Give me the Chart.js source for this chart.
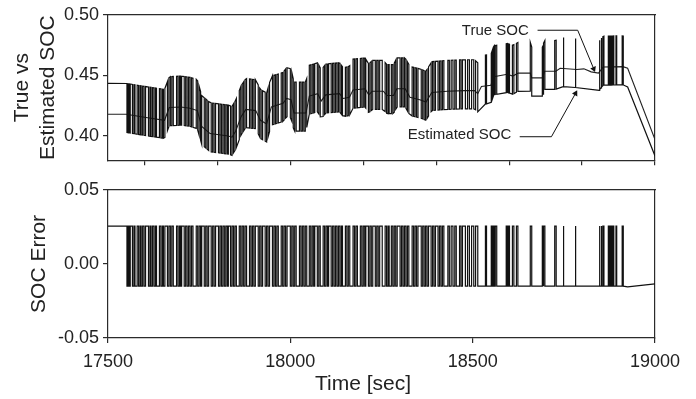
<!DOCTYPE html>
<html>
<head>
<meta charset="utf-8">
<script src="https://cdn.jsdelivr.net/npm/chart.js@4.4.0/dist/chart.umd.min.js"></script>
<style>
  html, body { margin: 0; padding: 0; background: #fff; }
  #wrap { position: relative; width: 696px; height: 399px; font-family: "Liberation Sans", Arial, sans-serif; }
  #socChart { position: absolute; left: 0; top: 0; }
  #errChart { position: absolute; left: 0; top: 175px; }
  #xTitle { position: absolute; left: 263px; width: 200px; top: 371px; text-align: center; font-size: 21px; line-height: 24px; color: #222; }
</style>
</head>
<body>
<div id="wrap">
  <canvas id="socChart" width="696" height="175"></canvas>
  <canvas id="errChart" width="696" height="224"></canvas>
  <div id="xTitle">Time [sec]</div>
</div>
<script>
// axis ranges and ticks
const xMin = 17500, xMax = 19000;
const topXTicks = [17600, 17800, 18000, 18200, 18400, 18600, 18800, 19000];
const errXTicks = [17500, 18000, 18500, 19000];
const topYTicks = [0.40, 0.45, 0.50];
const errYTicks = [-0.05, 0.00, 0.05];

// true SOC (the smooth line)
const trueTime = [17500, 17550, 17600, 17655, 17668, 17700, 17725, 17745, 17757, 17780,
  17830, 17840, 17850, 17865, 17878, 17905, 17918, 17935, 17948, 17980,
  17990, 18002, 18010, 18043, 18052, 18075, 18085, 18097, 18135, 18145,
  18162, 18172, 18205, 18215, 18225, 18255, 18265, 18283, 18292, 18315,
  18328, 18355, 18372, 18388, 18430, 18478, 18505, 18514, 18524, 18550,
  18558, 18595, 18610, 18625, 18658, 18662, 18692, 18697, 18728, 18740,
  18785, 18805, 18825, 18845, 18858, 18912, 18925, 19000];
const trueSoc = [0.418, 0.418, 0.4155, 0.413, 0.4235, 0.424, 0.423, 0.421, 0.408, 0.402,
  0.400, 0.399, 0.404, 0.416, 0.422, 0.421, 0.413, 0.410, 0.424, 0.427,
  0.431, 0.430, 0.419, 0.419, 0.433, 0.435, 0.429, 0.434, 0.435, 0.431,
  0.432, 0.438, 0.439, 0.434, 0.437, 0.437, 0.4335, 0.4335, 0.439, 0.439,
  0.432, 0.430, 0.428, 0.436, 0.437, 0.4375, 0.4375, 0.435, 0.441, 0.442,
  0.449, 0.451, 0.4495, 0.452, 0.452, 0.448, 0.448, 0.4535, 0.4535, 0.456,
  0.455, 0.4555, 0.453, 0.452, 0.457, 0.4573, 0.456, 0.397];

// SOC error: switches between two levels; times of each switch
const errHigh = 0.0255;
const errLow = -0.015;
const errEdgesA = [17552, 17555, 17558, 17561, 17567, 17571, 17574,
  17580, 17584, 17588, 17591, 17595, 17599, 17603,
  17611, 17615, 17618, 17622, 17626, 17630, 17633,
  17641, 17645, 17649, 17652, 17656,
  17663, 17667, 17671, 17675, 17679,
  17688, 17692, 17696, 17699, 17702,
  17709, 17713, 17717, 17721, 17725, 17729, 17733,
  17742, 17746, 17750, 17754, 17757,
  17764, 17768, 17772, 17776,
  17783, 17787, 17791, 17795,
  17803, 17807, 17811, 17815, 17819, 17823, 17827, 17830];
const errEdgesB = [17836, 17840, 17844, 17848, 17852,
  17860, 17864, 17868, 17872, 17876, 17880,
  17888, 17892, 17896, 17900, 17904,
  17912, 17916, 17920, 17924,
  17931, 17935, 17939, 17943,
  17951, 17955, 17959, 17963, 17967,
  17975, 17979, 17983, 17987, 17991,
  18000, 18004, 18008, 18012, 18016,
  18025, 18029, 18033, 18037, 18041, 18045,
  18052, 18056, 18060, 18064, 18067,
  18074, 18078, 18082,
  18090, 18094, 18098, 18102, 18105,
  18112, 18116, 18120, 18124, 18128, 18132, 18136, 18140, 18143];
const errEdgesC = [18151, 18155, 18159, 18163,
  18172, 18176, 18180, 18184,
  18192, 18196, 18200, 18204, 18207,
  18214, 18218, 18222, 18226,
  18233, 18237, 18241, 18245, 18252,
  18260, 18264, 18268, 18271,
  18277, 18281, 18285, 18289, 18293,
  18301, 18305, 18309, 18313, 18317, 18321, 18325,
  18334, 18338, 18342, 18346, 18350,
  18359, 18363, 18367, 18371, 18375, 18379,
  18386, 18390, 18394, 18398,
  18405, 18409, 18413, 18417, 18421,
  18432, 18436, 18441, 18446, 18451, 18455,
  18464, 18468, 18472,
  18480, 18486, 18491, 18497, 18503, 18508, 18514];
// late, isolated pulses: [up, down]
const errPulses = [[18535, 18538], [18551, 18554], [18557, 18559], [18562, 18566],
  [18592, 18595], [18598, 18601], [18609, 18613], [18620, 18624],
  [18658, 18662], [18691, 18693], [18695, 18698], [18725, 18729],
  [18748, 18750], [18781, 18783], [18847, 18849], [18852, 18854],
  [18857, 18860], [18872, 18875], [18878, 18881], [18884, 18887],
  [18893, 18895], [18910, 18913]];
const errTailTime = [18925, 19000];
const errTailVal = [-0.0155, -0.0135];

// leader lines of the two notes
const trueNoteLine = [[18678, 0.4874], [18788, 0.4874], [18832, 0.4555]];
const estNoteLine = [[18629, 0.3994], [18716, 0.3994], [18782, 0.4352]];

function trueAt(t) {
    for (let i = 1; i < trueTime.length; i++) {
        if (t <= trueTime[i]) {
            const f = (t - trueTime[i - 1]) / (trueTime[i] - trueTime[i - 1]);
            return trueSoc[i - 1] + f * (trueSoc[i] - trueSoc[i - 1]);
        }
    }
    return trueSoc[trueSoc.length - 1];
}

// build the error square wave, then the estimate = true + error
const edges = errEdgesA.concat(errEdgesB, errEdgesC, errPulses.flat());
const errPts = [{x: xMin, y: errHigh}];
let level = errHigh;
edges.forEach(t => {
    errPts.push({x: t, y: level});
    level = level === errHigh ? errLow : errHigh;
    errPts.push({x: t, y: level});
});
errTailTime.forEach((t, i) => errPts.push({x: t, y: errTailVal[i]}));
const estPts = errPts.map(p => ({x: p.x, y: trueAt(p.x) + p.y}));
const truePts = trueTime.map((t, i) => ({x: t, y: trueSoc[i]}));

const ink = '#111';
const frame = '#2b2b2b';
const textCol = '#222';
const family = '"Liberation Sans", Arial, sans-serif';
const tickFont = {family: family, size: 18};
const titleFont = {family: family, size: 21};

function fixTicks(list) {
    return function(scale) {
        scale.ticks = list.map(v => ({value: v}));
    };
}

// draws the two note texts at data positions
const notesPlugin = {
    id: 'notes',
    afterDatasetsDraw(chart) {
        const ctx = chart.ctx;
        const xs = chart.scales.x, ys = chart.scales.y;
        ctx.save();
        ctx.font = '15px ' + family;
        ctx.fillStyle = textCol;
        ctx.textAlign = 'center';
        ctx.textBaseline = 'middle';
        ctx.fillText('True SOC', xs.getPixelForValue(18562), ys.getPixelForValue(0.4872));
        ctx.fillText('Estimated SOC', xs.getPixelForValue(18464), ys.getPixelForValue(0.4008));
        ctx.restore();
    }
};

function noteDataset(pts, angle) {
    return {
        data: pts.map(p => ({x: p[0], y: p[1]})),
        borderColor: ink,
        borderWidth: 1,
        pointRadius: [0, 0, 3.5],
        pointStyle: 'triangle',
        rotation: [0, 0, angle],
        pointBackgroundColor: ink,
        pointBorderWidth: 0
    };
}

function hiddenAxis(axis, position) {
    return {
        type: 'linear', axis: axis, position: position, min: 0, max: 1,
        ticks: {display: false},
        grid: {display: false},
        border: {color: frame, width: 1.2},
        afterFit: s => { if (axis === 'x') s.height = 0; else s.width = 0; }
    };
}

new Chart(document.getElementById('socChart'), {
    type: 'line',
    data: {
        datasets: [
            {data: estPts, borderColor: ink, borderWidth: 1.2, pointRadius: 0},
            {data: truePts, borderColor: '#222', borderWidth: 1.1, pointRadius: 0},
            noteDataset(trueNoteLine, 157),
            noteDataset(estNoteLine, 29)
        ]
    },
    options: {
        responsive: false,
        animation: false,
        events: [],
        layout: {padding: {left: 0, right: 41, top: 15, bottom: 4}},
        plugins: {legend: {display: false}, tooltip: {enabled: false}},
        scales: {
            x: {
                type: 'linear', min: xMin, max: xMax, position: 'bottom',
                afterBuildTicks: fixTicks(topXTicks),
                afterFit: s => { s.height = 6; },
                ticks: {display: false, autoSkip: false},
                grid: {drawOnChartArea: false, tickLength: 5, color: frame, lineWidth: 1.2},
                border: {color: frame, width: 1.2}
            },
            x2: hiddenAxis('x', 'top'),
            y: {
                type: 'linear', min: 0.38, max: 0.50,
                afterBuildTicks: fixTicks(topYTicks),
                afterFit: s => { s.width = 108; },
                ticks: {font: tickFont, color: textCol, padding: 4, callback: v => v.toFixed(2)},
                grid: {drawOnChartArea: false, tickLength: 5, color: frame, lineWidth: 1.2},
                border: {color: frame, width: 1.2},
                title: {display: true, text: ['True vs', 'Estimated SOC'], font: titleFont, color: textCol, padding: {top: 10, bottom: 0}}
            },
            y2: hiddenAxis('y', 'right')
        }
    },
    plugins: [notesPlugin]
});

new Chart(document.getElementById('errChart'), {
    type: 'line',
    data: {
        datasets: [
            {data: errPts, borderColor: ink, borderWidth: 1.2, pointRadius: 0}
        ]
    },
    options: {
        responsive: false,
        animation: false,
        events: [],
        layout: {padding: {left: 0, right: 41, top: 12, bottom: 0}},
        plugins: {legend: {display: false}, tooltip: {enabled: false}},
        scales: {
            x: {
                type: 'linear', min: xMin, max: xMax, position: 'bottom',
                afterBuildTicks: fixTicks(errXTicks),
                afterFit: s => { s.height = 61; },
                ticks: {font: tickFont, color: textCol, padding: 8, autoSkip: false, maxRotation: 0, callback: v => String(v)},
                grid: {drawOnChartArea: false, tickLength: 5, color: frame, lineWidth: 1.2},
                border: {color: frame, width: 1.2}
            },
            x2: hiddenAxis('x', 'top'),
            y: {
                type: 'linear', min: -0.05, max: 0.05,
                afterBuildTicks: fixTicks(errYTicks),
                afterFit: s => { s.width = 108; },
                ticks: {font: tickFont, color: textCol, padding: 4, callback: v => v.toFixed(2)},
                grid: {drawOnChartArea: false, tickLength: 5, color: frame, lineWidth: 1.2},
                border: {color: frame, width: 1.2},
                title: {display: true, text: 'SOC Error', font: titleFont, color: textCol, padding: {top: 27, bottom: 0}}
            },
            y2: hiddenAxis('y', 'right')
        }
    }
});
</script>
</body>
</html>
